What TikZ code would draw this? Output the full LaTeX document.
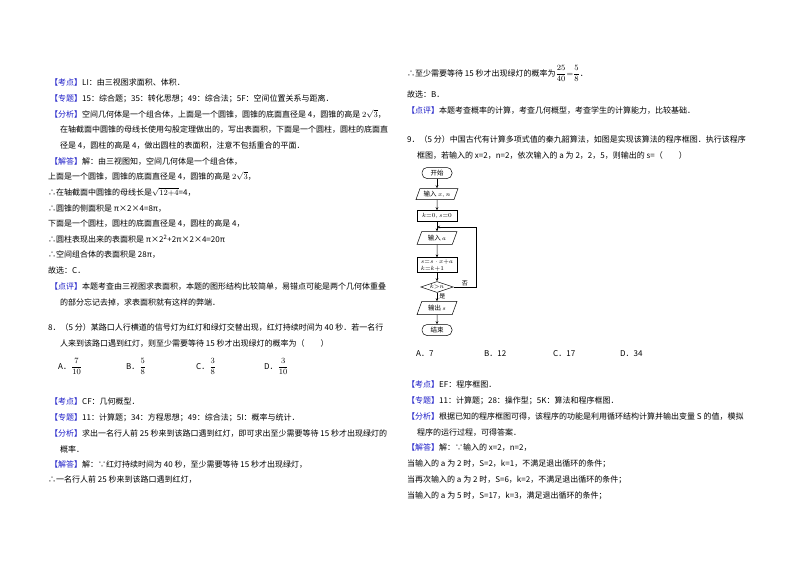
\documentclass[tikz,border=0pt]{standalone}
\usepackage{amsmath}
\usepackage{fontspec}
\setmainfont{Noto Sans CJK SC}
\usetikzlibrary{shapes.geometric,arrows.meta}
\definecolor{tagblue}{RGB}{30,30,200}
\newcommand\tg[1]{\textcolor{tagblue}{【#1】}}
\tikzset{tx/.style={anchor=base west,inner sep=0pt,font=\fontsize{8}{9}\selectfont},
 fl/.style={draw,line width=0.5pt,font=\fontsize{6.5}{7}\selectfont,inner sep=1.5pt,minimum height=11pt},
 io/.style={fl,trapezium,trapezium left angle=70,trapezium right angle=110,minimum width=40pt},
 pr/.style={fl,rectangle},
 term/.style={fl,rounded corners=5pt,minimum width=30pt},
 dec/.style={fl,diamond,aspect=3,inner sep=0.5pt},
 ar/.style={-{Stealth[length=3pt,width=2.5pt]},line width=0.5pt}}
\begin{document}
\begin{tikzpicture}[x=1pt,y=-1pt]
\useasboundingbox[fill=white] (0,0) rectangle (800,565);
% left column
\node[tx] (a1) at (50,85) {\tg{考点}LI：由三视图求面积、体积．};
\node[tx] (a2) at (50,101) {\tg{专题}15：综合题；35：转化思想；49：综合法；5F：空间位置关系与距离．};
\node[tx] (a3) at (50,117) {\tg{分析}空间几何体是一个组合体，上面是一个圆锥，圆锥的底面直径是 4，圆锥的高是 $2\sqrt{3}$，};
\node[tx] (a4) at (60,132) {在轴截面中圆锥的母线长使用勾股定理做出的，写出表面积，下面是一个圆柱，圆柱的底面直};
\node[tx] (a5) at (60,148) {径是 4，圆柱的高是 4，做出圆柱的表面积，注意不包括重合的平面．};
\node[tx] (a6) at (50,164) {\tg{解答}解：由三视图知，空间几何体是一个组合体，};
\node[tx] (a7) at (48,179) {上面是一个圆锥，圆锥的底面直径是 4，圆锥的高是 $2\sqrt{3}$，};
\node[tx] (a8) at (48,195) {∴在轴截面中圆锥的母线长是$\sqrt{12{+}4}$=4，};
\node[tx] (a9) at (48,211) {∴圆锥的侧面积是 π×2×4=8π，};
\node[tx] (a10) at (48,226) {下面是一个圆柱，圆柱的底面直径是 4，圆柱的高是 4，};
\node[tx] (a11) at (48,242) {∴圆柱表现出来的表面积是 π×2\textsuperscript{2}+2π×2×4=20π};
\node[tx] (a12) at (48,257) {∴空间组合体的表面积是 28π，};
\node[tx] (a13) at (48,273) {故选：C．};
\node[tx] (a14) at (50,289) {\tg{点评}本题考查由三视图求表面积，本题的图形结构比较简单，易错点可能是两个几何体重叠};
\node[tx] (a15) at (60,305) {的部分忘记去掉，求表面积就有这样的弊端．};
\node[tx] (a16) at (48,330) {8．（5 分）某路口人行横道的信号灯为红灯和绿灯交替出现，红灯持续时间为 40 秒．若一名行};
\node[tx] (a17) at (60,346) {人来到该路口遇到红灯，则至少需要等待 15 秒才出现绿灯的概率为（\qquad）};
\node[tx] (o1) at (58,369) {A．$\dfrac{7}{10}$};
\node[tx] (o2) at (126,369) {B．$\dfrac{5}{8}$};
\node[tx] (o3) at (196,369) {C．$\dfrac{3}{8}$};
\node[tx] (o4) at (264,369) {D．$\dfrac{3}{10}$};
\node[tx] (b1) at (50,404) {\tg{考点}CF：几何概型．};
\node[tx] (b2) at (50,420) {\tg{专题}11：计算题；34：方程思想；49：综合法；5I：概率与统计．};
\node[tx] (b3) at (50,436) {\tg{分析}求出一名行人前 25 秒来到该路口遇到红灯，即可求出至少需要等待 15 秒才出现绿灯的};
\node[tx] (b4) at (60,452) {概率．};
\node[tx] (b5) at (50,467) {\tg{解答}解：∵红灯持续时间为 40 秒，至少需要等待 15 秒才出现绿灯，};
\node[tx] (b6) at (48,482) {∴一名行人前 25 秒来到该路口遇到红灯，};
% right column
\node[tx] (c1) at (407,76) {∴至少需要等待 15 秒才出现绿灯的概率为$\dfrac{25}{40}{=}\dfrac{5}{8}$．};
\node[tx] (c2) at (407,97) {故选：B．};
\node[tx] (c3) at (407,113) {\tg{点评}本题考查概率的计算，考查几何概型，考查学生的计算能力，比较基础．};
\node[tx] (c4) at (407,142) {9．（5 分）中国古代有计算多项式值的秦九韶算法，如图是实现该算法的程序框图．执行该程序};
\node[tx] (c5) at (417,158) {框图，若输入的 x=2，n=2，依次输入的 a 为 2，2，5，则输出的 s=（\qquad）};
\node[tx] (d1) at (416,356) {A．7};
\node[tx] (d2) at (484,356) {B．12};
\node[tx] (d3) at (553,356) {C．17};
\node[tx] (d4) at (620,356) {D．34};
\node[tx] (e1) at (407,387) {\tg{考点}EF：程序框图．};
\node[tx] (e2) at (407,403) {\tg{专题}11：计算题；28：操作型；5K：算法和程序框图．};
\node[tx] (e3) at (407,419) {\tg{分析}根据已知的程序框图可得，该程序的功能是利用循环结构计算并输出变量 S 的值，模拟};
\node[tx] (e4) at (417,435) {程序的运行过程，可得答案．};
\node[tx] (e5) at (407,450) {\tg{解答}解：∵输入的 x=2，n=2，};
\node[tx] (e6) at (407,466) {当输入的 a 为 2 时，S=2，k=1，不满足退出循环的条件；};
\node[tx] (e7) at (407,482) {当再次输入的 a 为 2 时，S=6，k=2，不满足退出循环的条件；};
\node[tx] (e8) at (407,498) {当输入的 a 为 5 时，S=17，k=3，满足退出循环的条件；};
% flowchart
\node[term] (st) at (437,173) {开始};
\node[io] (in1) at (437,194) {输入 $x,n$};
\node[pr,minimum width=40pt] (init) at (437,216) {$k{=}0,s{=}0$};
\node[io] (in2) at (437,238) {输入 $a$};
\node[pr,minimum width=40pt,align=left] (up) at (437,265) {$s{=}s\cdot x{+}a$\\$k{=}k{+}1$};
\node[dec] (dc) at (437,287) {$k{>}n$};
\node[io] (out) at (437,308) {输出 $s$};
\node[term] (en) at (437,330) {结束};
\coordinate (lp1) at (476,287);
\coordinate (lp2) at (476,227);
\coordinate (lp3) at (437,227);
\draw[ar] (st) -- (in1);
\draw[ar] (in1) -- (init);
\draw[ar] (init) -- (in2);
\draw[ar] (in2) -- (up);
\draw[ar] (up) -- (dc);
\draw[ar] (dc) -- node[right,pos=0.4,inner sep=2pt,font=\fontsize{6}{7}\selectfont]{是} (out);
\draw[ar] (out) -- (en);
\draw[ar] (dc.east) -- node[above,pos=0.5,inner sep=1pt,font=\fontsize{6}{7}\selectfont]{否} (lp1) -- (lp2) -- (lp3);
\end{tikzpicture}
\end{document}
